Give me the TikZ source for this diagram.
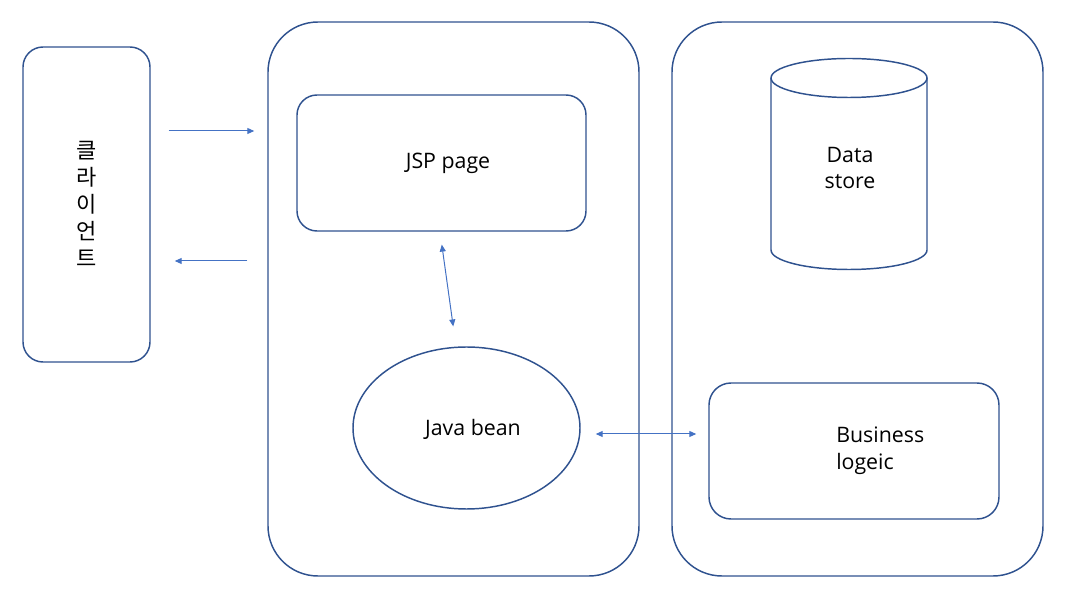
\documentclass[tikz,border=0pt]{standalone}
\usepackage{fontspec}
\setmainfont{Open Sans}
\newfontfamily\krfont{Noto Sans CJK KR}
\usepackage{xcolor}
\usetikzlibrary{arrows.meta, shapes.geometric}
\definecolor{edge}{RGB}{47, 82, 143}
\definecolor{link}{RGB}{68, 114, 196}

\begin{document}
\begin{tikzpicture}[x=0.75pt, y=-0.75pt,
    box/.style={draw=edge, line width=1.1pt, rounded corners=15pt, inner sep=0pt},
    tier/.style={box, rounded corners=37.5pt, minimum width=278.25pt, minimum height=415.5pt},
    arrowline/.style={draw=link, line width=0.75pt},
    tip/.style={arrowline, -{Triangle[length=5.25pt, width=4.5pt]}},
    both/.style={arrowline, {Triangle[length=5.25pt, width=4.5pt]}-{Triangle[length=5.25pt, width=4.5pt]}},
    txt/.style={font=\fontsize{16pt}{20pt}\selectfont, inner sep=0pt}]
      \useasboundingbox (0, 0) rectangle (1068, 605);
      % client
      \node[box, minimum width=95.25pt, minimum height=236.25pt] (client) at (86.5, 204.5) {};
      \node[txt, font=\krfont\fontsize{16.5pt}{20.25pt}\selectfont, align=center] (clientlabel) at (86.5, 204) {클\\라\\이\\언\\트};
      % web tier
      \node[tier] (web) at (453.5, 299) {};
      \node[box, minimum width=216.75pt, minimum height=102pt] (jsp) at (441.5, 163) {};
      \node[txt] (jsplabel) at (448, 163) {JSP page};
      \node[draw=edge, line width=1.1pt, ellipse, inner sep=0pt, minimum width=170.25pt, minimum height=121.5pt] (bean) at (466.5, 428) {};
      \node[txt] (beanlabel) at (473, 429) {Java bean};
      % business tier
      \node[tier] (biztier) at (857.5, 299) {};
      \draw[edge, line width=1.1pt] (771, 78) -- (771, 250)
        arc[start angle=180, end angle=0, x radius=78, y radius=19.5] -- (927, 78);
      \draw[edge, line width=1.1pt] (849, 78) ellipse (78 and 19.5);
      \node[txt, align=center] (store) at (850, 168) {Data\\store};
      \node[box, rounded corners=16.5pt, minimum width=217.5pt, minimum height=102pt] (biz) at (854, 451) {};
      \node[txt, align=left, anchor=west] (bizlabel) at (836, 451) {Business\\logeic};
      % connectors
      \draw[tip, shorten <=13.5pt, shorten >=9.75pt] (client.east |- 0, 131) -- (web.west |- 0, 131);
      \draw[tip, shorten <=15pt, shorten >=18pt] (web.west |- 0, 261) -- (client.east |- 0, 261);
      \draw[both, shorten <=9.75pt, shorten >=15pt] ([xshift=-1.125pt]jsp.south) -- ([xshift=-7.875pt]bean.north);
      \draw[both, shorten <=11.25pt, shorten >=9pt] ([yshift=-4.5pt]bean.east) -- ([yshift=-4.5pt]bean.east -| biz.west);
    \end{tikzpicture}
\end{document}
